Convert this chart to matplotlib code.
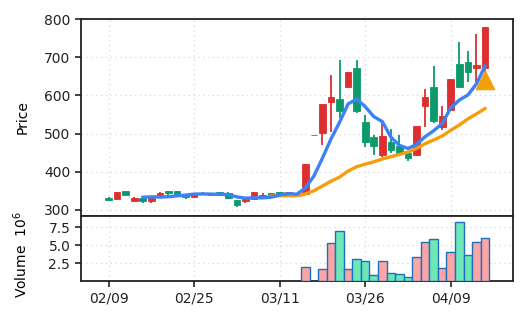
import numpy as np
import pandas as pd
import matplotlib
matplotlib.use('Agg')
import matplotlib.pyplot as plt

# daily candles, index 0 = 02/09
opens = [332, 328, 349, 324, 330, 324, 338, 348, 348, 339, 334, 340, 339, 346, 343,
         325, 324, 327, 337, 343, 346, 341, 336, 340, 497, 502, 583, 590, 623, 671,
         531, 490, 443, 477, 467, 448, 443, 573, 623, 516, 562, 682, 687, 671, 672]
highs = [333, 347, 350, 334, 331, 331, 346, 349, 349, 340, 344, 347, 343, 347, 346,
         326, 330, 347, 343, 344, 347, 347, 341, 421, 497, 578, 654, 693, 662, 694,
         549, 496, 527, 511, 496, 455, 521, 617, 678, 572, 643, 741, 716, 761, 780]
lows = [324, 327, 338, 323, 318, 317, 337, 334, 340, 327, 333, 339, 338, 338, 329,
        308, 318, 326, 336, 337, 340, 340, 335, 338, 495, 470, 505, 540, 622, 555,
        465, 443, 439, 449, 445, 429, 440, 518, 527, 509, 558, 619, 636, 636, 660]
closes = [325, 346, 339, 330, 324, 330, 343, 344, 341, 334, 343, 345, 342, 339, 330,
          312, 329, 346, 339, 338, 341, 346, 340, 420, 495, 577, 597, 559, 661, 559,
          477, 467, 493, 457, 450, 437, 520, 595, 534, 546, 642, 623, 661, 680, 779]
# volume in millions (no volume reported before 03/11)
volume_m = [0] * 23 + [1.94, 0, 1.67, 5.28, 7.03, 1.67, 3.06, 2.78, 0.83, 2.86, 1.15,
                       0.97, 0.56, 3.42, 5.5, 5.92, 1.8, 4.03, 8.19, 3.61, 5.5, 6.06]
signal_idx = [44]
signal_price = [640]

tick_idx = [0, 10, 20, 30, 40]
tick_labels = ['02/09', '02/25', '03/11', '03/26', '04/09']

UP = '#dc2f2f'
DOWN = '#0c9a6c'
UP_VOL = '#fca5a5'
DOWN_VOL = '#6ee7b7'

df = pd.DataFrame({'open': opens, 'high': highs, 'low': lows, 'close': closes, 'vol': volume_m})
df['ma5'] = df['close'].rolling(5).mean()
df['ma20'] = df['close'].rolling(20).mean()
x = np.arange(len(df))
up = df['close'] >= df['open']

fig = plt.figure(figsize=(5.28, 3.26), dpi=100)
gs = fig.add_gridspec(2, 1, height_ratios=[3.02, 1], hspace=0,
                      left=0.153, right=0.972, top=0.942, bottom=0.138)
ax = fig.add_subplot(gs[0])
ax2 = fig.add_subplot(gs[1], sharex=ax)

grid_kw = dict(color='#dddddd', linestyle=(0, (1, 2.5)), linewidth=1.0)

# candles
colors = [UP if u else DOWN for u in up]
ax.vlines(x, df['low'], df['high'], color=colors, linewidth=1.3, zorder=2)
body = np.maximum((df['close'] - df['open']).abs(), 1.5)
ax.bar(x, body, bottom=np.minimum(df['open'], df['close']), width=0.78,
       color=colors, edgecolor=colors, linewidth=0.6, zorder=3)
ax.plot(x, df['ma20'], color='#f59e0b', linewidth=2.4, zorder=4)
ax.plot(x, df['ma5'], color='#3b82f6', linewidth=2.4, zorder=5)
ax.scatter(signal_idx, signal_price, marker='^', s=170, color='#f59e0b', zorder=6)

ax.set_ylim(284, 801)
ax.set_yticks([300, 400, 500, 600, 700, 800])
ax.set_ylabel('Price', fontsize=10)
ax.yaxis.set_label_coords(-0.118, 0.5)
ax.grid(True, **grid_kw)
ax.tick_params(axis='x', bottom=False, labelbottom=False)

# volume
vcolors = [UP_VOL if u else DOWN_VOL for u in up]
mask = df['vol'] > 0
ax2.bar(x[mask], df['vol'][mask], width=1.0, color=np.array(vcolors)[mask],
        edgecolor='#1f6fc0', linewidth=1.0, zorder=3)
ax2.set_ylim(0, 9.1)
ax2.set_yticks([2.5, 5.0, 7.5])
ax2.set_yticklabels(['2.5', '5.0', '7.5'])
ax2.set_ylabel('Volume  $10^6$', fontsize=10)
ax2.yaxis.set_label_coords(-0.118, 0.41)
ax2.grid(True, **grid_kw)
ax2.set_xticks(tick_idx)
ax2.set_xticklabels(tick_labels)
ax2.set_xlim(-3.25, 47.3)

for a in (ax, ax2):
    a.set_axisbelow(True)
    a.tick_params(labelsize=10, colors='#222222', length=4, width=1.2)
    for s in a.spines.values():
        s.set_color('#222222')
        s.set_linewidth(1.3)
ax.tick_params(axis='x', bottom=False)

fig.savefig('out.png', dpi=100)
